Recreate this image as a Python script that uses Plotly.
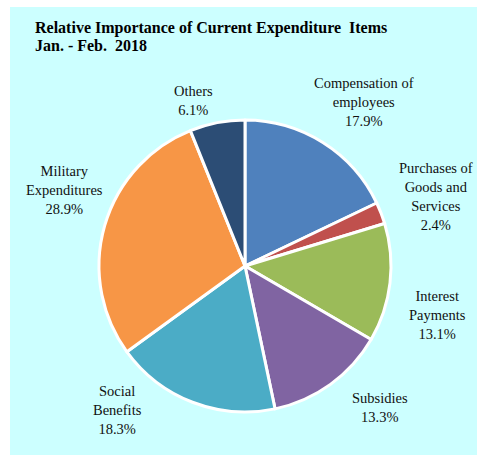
import math
import plotly.graph_objects as go

# Current expenditure shares, Jan.-Feb. 2018 (percent)
items = ["Compensation of<br>employees", "Purchases of<br>Goods and<br>Services",
         "Interest<br>Payments", "Subsidies", "Social<br>Benefits",
         "Military<br>Expenditures", "Others"]
shares = [17.9, 2.4, 13.1, 13.3, 18.3, 28.9, 6.1]
colors = ["#4F81BD", "#C0504D", "#9BBB59", "#8064A2", "#4BACC6", "#F79646", "#2C4D75"]
title_lines = ["Relative Importance of Current Expenditure  Items", "Jan. - Feb.  2018"]

W, H = 478, 455
cx, cy, r = 245, 266, 146

fig = go.Figure(go.Pie(
    labels=[s.replace("<br>", " ") for s in items],
    values=shares,
    sort=False,
    direction="clockwise",
    rotation=0,
    marker=dict(colors=colors, line=dict(color="white", width=3)),
    textinfo="none",
    hoverinfo="label+percent",
    domain=dict(x=[(cx - r) / W, (cx + r) / W], y=[1 - (cy + r) / H, 1 - (cy - r) / H]),
    showlegend=False,
))

# Outside labels: radial distance (in radii) and angular nudge (deg) from each slice's mid-angle
label_dist = [1.39, 1.39, 1.36, 1.34, 1.32, 1.34, 1.19]
label_turn = [3.8, 1.1, 7.6, -8.0, 20.5, 6.9, -6.4]
annotations = []
cum = 0.0
total = sum(shares)
for name, val, d, t in zip(items, shares, label_dist, label_turn):
    mid = (cum + val / 2) / total * 360 + t
    cum += val
    a = math.radians(mid)
    px = cx + d * r * math.sin(a)
    py = cy - d * r * math.cos(a)
    annotations.append(dict(
        x=px / W, y=1 - py / H, xref="paper", yref="paper",
        text=f"{name}<br>{val:.1f}%", showarrow=False,
        font=dict(family="Liberation Serif", size=14.5, color="#111111"),
        align="center", xanchor="center", yanchor="middle",
    ))

for i, line in enumerate(title_lines):
    annotations.append(dict(
        x=33 / W, y=1 - (28 + 18 * i) / H, xref="paper", yref="paper",
        text=f"<b>{line}</b>", showarrow=False, align="left",
        xanchor="left", yanchor="middle",
        font=dict(family="Liberation Serif", size=16, color="black"),
    ))

fig.update_layout(
    width=W, height=H,
    margin=dict(l=0, r=0, t=0, b=0),
    paper_bgcolor="white",
    plot_bgcolor="white",
    shapes=[dict(type="rect", xref="paper", yref="paper",
                 x0=10 / W, x1=477 / W, y0=0, y1=1 - 7 / H,
                 fillcolor="#CCFFFF", line=dict(width=0), layer="below")],
    annotations=annotations,
)

fig.write_html("out.html")
